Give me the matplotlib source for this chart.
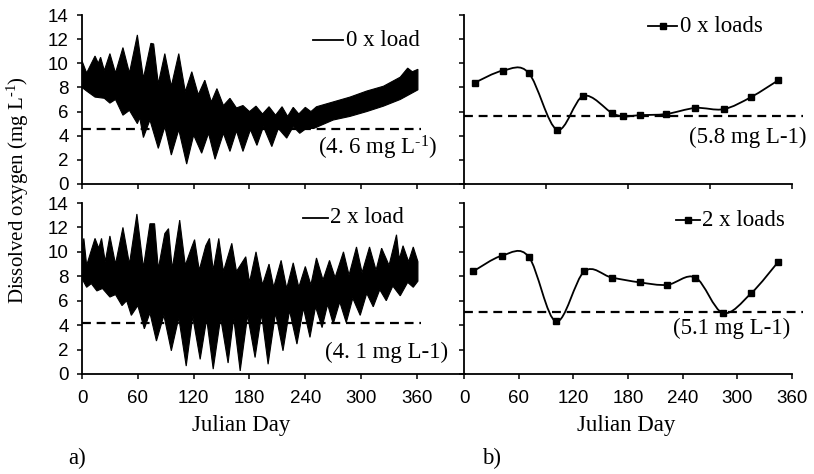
import numpy as np
import matplotlib
matplotlib.use("Agg")
import matplotlib.pyplot as plt
from matplotlib.path import Path
from matplotlib.patches import PathPatch
from matplotlib.lines import Line2D

plt.rcParams['font.family'] = 'Liberation Sans'
plt.rcParams['mathtext.default'] = 'regular'
SERIF = 'Liberation Serif'

# a) model output, read off as the spiky upper / lower envelope of the black band
# 0 x load
day_up_0 = [0, 5, 14, 17.5, 20, 24, 30, 36, 44, 51, 59.5, 66, 74, 77, 82, 89, 96, 104, 111, 118,
            125, 132, 139, 145, 152, 159, 166, 173, 180, 187, 194, 201, 208, 215, 221, 227, 233,
            240, 246, 252, 270, 288, 306, 324, 342, 350, 355, 361]
do_up_0 = [10.2, 9.2, 10.6, 10.0, 10.5, 9.4, 10.8, 9.2, 11.3, 9.2, 12.35, 8.75, 11.65, 11.6, 8.3,
           10.8, 8.1, 10.8, 7.65, 9.3, 7.4, 8.6, 6.8, 7.9, 6.5, 7.1, 6.3, 6.5, 6.0, 6.45, 5.8, 6.4,
           5.7, 6.4, 5.6, 6.35, 5.8, 6.35, 6.0, 6.4, 6.8, 7.2, 7.7, 8.1, 8.85, 9.6, 9.3, 9.5]
day_lo_0 = [0, 5, 14, 24, 30, 36, 44, 51, 59.5, 62, 66, 73, 82, 89, 96, 104, 112.5, 120, 128.6,
            136, 143, 152, 159, 166, 173, 181, 188, 195, 204, 211, 220, 227, 234, 241, 249, 270,
            288, 306, 324, 342, 361]
do_lo_0 = [8.0, 7.7, 7.2, 7.1, 6.7, 7.0, 5.7, 6.1, 5.0, 5.5, 3.85, 5.3, 2.95, 4.75, 2.4, 4.5,
           1.65, 4.05, 2.55, 4.2, 2.05, 4.2, 2.7, 4.4, 2.7, 4.5, 3.2, 4.75, 3.1, 4.6, 3.8, 4.75,
           4.2, 4.6, 4.6, 5.3, 5.6, 6.0, 6.45, 7.0, 7.8]

# 2 x load
day_up_2 = [0, 2, 5, 14, 18, 21, 25, 30, 36, 44, 51, 59, 66, 73, 78, 82, 89, 93, 97, 105, 111,
            118, 121, 126, 133, 137, 141, 147, 152, 161, 166, 176, 180, 187, 194, 201, 206, 214,
            220, 227, 233, 240, 246, 252, 259, 266, 272, 281, 287, 295, 301, 309, 316, 322, 330,
            338, 341, 345, 351, 356, 361]
do_up_2 = [10.4, 11.1, 8.9, 11.1, 10.3, 11.1, 9.2, 11.3, 9.0, 12.0, 9.0, 13.1, 8.7, 12.3, 12.3,
           8.6, 11.5, 11.9, 8.6, 12.6, 8.9, 10.4, 11.0, 8.5, 10.5, 11.1, 8.5, 11.1, 8.4, 10.7, 8.4,
           9.6, 7.5, 10.0, 7.3, 9.0, 7.1, 9.3, 7.0, 9.1, 7.1, 8.8, 7.3, 9.5, 7.7, 9.3, 7.9, 10.0,
           8.1, 10.4, 8.3, 10.4, 8.5, 10.3, 8.9, 11.4, 9.4, 10.5, 9.2, 10.4, 9.2]
day_lo_2 = [0, 5, 10, 16, 22, 30, 36, 43, 48, 53, 60, 67, 73, 80, 88, 96, 104, 112, 119, 127,
            134, 141, 149, 157, 163, 170, 178, 186, 193, 200, 208, 216, 223, 231, 238, 245, 251,
            258, 264, 270, 277, 284, 291, 299, 306, 313, 320, 327, 334, 342, 350, 356, 361]
do_lo_2 = [7.8, 7.1, 7.4, 6.8, 7.0, 6.3, 6.5, 5.6, 6.0, 4.8, 5.6, 3.7, 5.0, 2.7, 4.8, 1.9, 4.6,
           0.65, 4.7, 1.2, 4.5, 0.4, 4.6, 0.9, 4.6, 0.25, 4.8, 1.35, 4.9, 0.8, 5.0, 1.9, 5.2, 2.45,
           5.4, 3.0, 5.5, 3.8, 5.7, 4.1, 5.9, 4.2, 6.2, 4.8, 6.6, 5.5, 6.9, 6.0, 7.2, 6.4, 7.5,
           7.1, 7.6]

# b) sampled days
day_b0 = [12, 43, 71, 102, 131, 162, 175, 193, 222, 254, 285, 315, 345]
do_b0 = [8.4, 9.4, 9.2, 4.5, 7.3, 5.9, 5.6, 5.7, 5.8, 6.3, 6.2, 7.2, 8.6]
day_b2 = [10, 42, 71, 101, 132, 162, 193, 223, 254, 284, 315, 345]
do_b2 = [8.4, 9.7, 9.6, 4.3, 8.4, 7.9, 7.5, 7.3, 7.9, 5.0, 6.6, 9.2]

# dashed reference lines (as drawn) and their labels
HY = '\u2010'  # plain hyphen inside the superscript
ref_a = [4.55, 4.15]
ref_b = [5.6, 5.05]
ref_a_txt = ['(4. 6 mg L$^{' + HY + '1}$)', '(4. 1 mg L-1)']
ref_b_txt = ['(5.8 mg L-1)', '(5.1 mg L-1)']
y_title = 'Dissolved oxygen (mg L$^{' + HY + '1}$)'

W, H = 814, 474
fig = plt.figure(figsize=(W / 100, H / 100), dpi=100)


def fx(px):
    return px / W


def fy(py):
    return 1 - py / H


def smooth_path(x, y):
    x = np.asarray(x, float)
    y = np.asarray(y, float)
    verts = [(x[0], y[0])]
    codes = [Path.MOVETO]
    n = len(x)
    for i in range(n - 1):
        xa, ya = (x[i - 1], y[i - 1]) if i > 0 else (x[i], y[i])
        xd, yd = (x[i + 2], y[i + 2]) if i + 2 < n else (x[i + 1], y[i + 1])
        c1 = (x[i] + (x[i + 1] - xa) / 6, y[i] + (y[i + 1] - ya) / 6)
        c2 = (x[i + 1] - (xd - x[i]) / 6, y[i + 1] - (yd - y[i]) / 6)
        verts += [c1, c2, (x[i + 1], y[i + 1])]
        codes += [Path.CURVE4] * 3
    return Path(verts, codes)


def style(ax, xmax, xticks, labels):
    ax.set_xlim(0, xmax)
    ax.set_ylim(0, 14)
    ax.spines['top'].set_visible(False)
    ax.spines['right'].set_visible(False)
    for s in ['left', 'bottom']:
        ax.spines[s].set_linewidth(1.3)
    ax.set_yticks(range(0, 15, 2))
    ax.set_xticks(xticks)
    ax.tick_params(direction='out', length=3.5, width=1.1, labelsize=13.5)
    ax.tick_params(axis='x', pad=8)
    ax.tick_params(axis='y', pad=6)
    if not labels:
        ax.set_xticklabels([])
    ax.set_facecolor('none')


# axes placement (pixels from the reference)
top_y0, top_h = fy(184), (184 - 15) / H
bot_y0, bot_h = fy(374), (374 - 203) / H
left_x0, left_w = fx(82), (465 - 82) / W
right_x0, right_w = fx(464), (803 - 464) / W

ax_a0 = fig.add_axes([left_x0, top_y0, left_w, top_h])
ax_a2 = fig.add_axes([left_x0, bot_y0, left_w, bot_h])
ax_b0 = fig.add_axes([right_x0, top_y0, right_w, top_h])
ax_b2 = fig.add_axes([right_x0, bot_y0, right_w, bot_h])

left_ticks = list(range(0, 361, 60))
style(ax_a0, 411.6, left_ticks, False)
style(ax_a2, 411.6, left_ticks, True)
style(ax_b0, 372, list(range(0, 361, 90)), False)
style(ax_b2, 372, left_ticks, True)
for ax in (ax_b0, ax_b2):
    ax.set_yticklabels([])
    ax.spines['bottom'].set_bounds(0, 360)

# a) black envelope bands
for ax, dup, vup, dlo, vlo in ((ax_a0, day_up_0, do_up_0, day_lo_0, do_lo_0),
                               (ax_a2, day_up_2, do_up_2, day_lo_2, do_lo_2)):
    xs = np.r_[dup, dlo[::-1]]
    ys = np.r_[vup, vlo[::-1]]
    ax.fill(xs, ys, color='black', lw=0.8, ec='black', zorder=2)

for ax, ref in zip((ax_a0, ax_a2), ref_a):
    ax.plot([0, 364], [ref, ref], color='black', lw=1.6, ls=(0, (4, 2.6)), zorder=3)

# b) smoothed sample lines
for ax, d, v in ((ax_b0, day_b0, do_b0), (ax_b2, day_b2, do_b2)):
    ax.add_patch(PathPatch(smooth_path(d, v), fc='none', ec='black', lw=1.3, zorder=3))
    ax.plot(d, v, ls='none', marker='s', ms=3.8, color='black', zorder=4)

for ax, ref in zip((ax_b0, ax_b2), ref_b):
    ax.plot([0, 372], [ref, ref], color='black', lw=1.6, ls=(0, (4, 2.6)), zorder=2,
            clip_on=False)

# legends (drawn by hand)
fsz = 16.5
for (x0, x1, y, mk, tx, txt) in ((313, 343, 40, None, 346, '0 x load'),
                                 (303, 328, 218, None, 330, '2 x load'),
                                 (648, 677, 26, 's', 680, '0 x loads'),
                                 (676, 700, 220, 's', 702, '2 x loads')):
    fig.add_artist(Line2D([fx(x0), fx(x1)], [fy(y), fy(y)], color='black', lw=1.3,
                          transform=fig.transFigure))
    if mk:
        fig.add_artist(Line2D([fx((x0 + x1) / 2)], [fy(y)], marker='s', ms=3.8,
                              color='black', transform=fig.transFigure))
    fig.text(fx(tx), fy(y), txt, family=SERIF, fontsize=fsz, ha='left', va='center')

# reference line labels
fig.text(fx(318), fy(148), ref_a_txt[0], family=SERIF, fontsize=fsz, ha='left', va='center')
fig.text(fx(325), fy(352), ref_a_txt[1], family=SERIF, fontsize=fsz, ha='left', va='center')
fig.text(fx(689), fy(137), ref_b_txt[0], family=SERIF, fontsize=fsz, ha='left', va='center')
fig.text(fx(673), fy(328), ref_b_txt[1], family=SERIF, fontsize=fsz, ha='left', va='center')

# axis titles and panel tags
fig.text(fx(18), fy(190), y_title, family=SERIF, fontsize=15,
         rotation=90, ha='center', va='center')
fig.text(fx(241), fy(425), 'Julian Day', family=SERIF, fontsize=16.5, ha='center', va='center')
fig.text(fx(626), fy(425), 'Julian Day', family=SERIF, fontsize=16.5, ha='center', va='center')
fig.text(fx(68), fy(458), 'a)', family=SERIF, fontsize=16.5, ha='left', va='center')
fig.text(fx(482), fy(458), 'b)', family=SERIF, fontsize=16.5, ha='left', va='center')

fig.savefig('out.png', dpi=100)
